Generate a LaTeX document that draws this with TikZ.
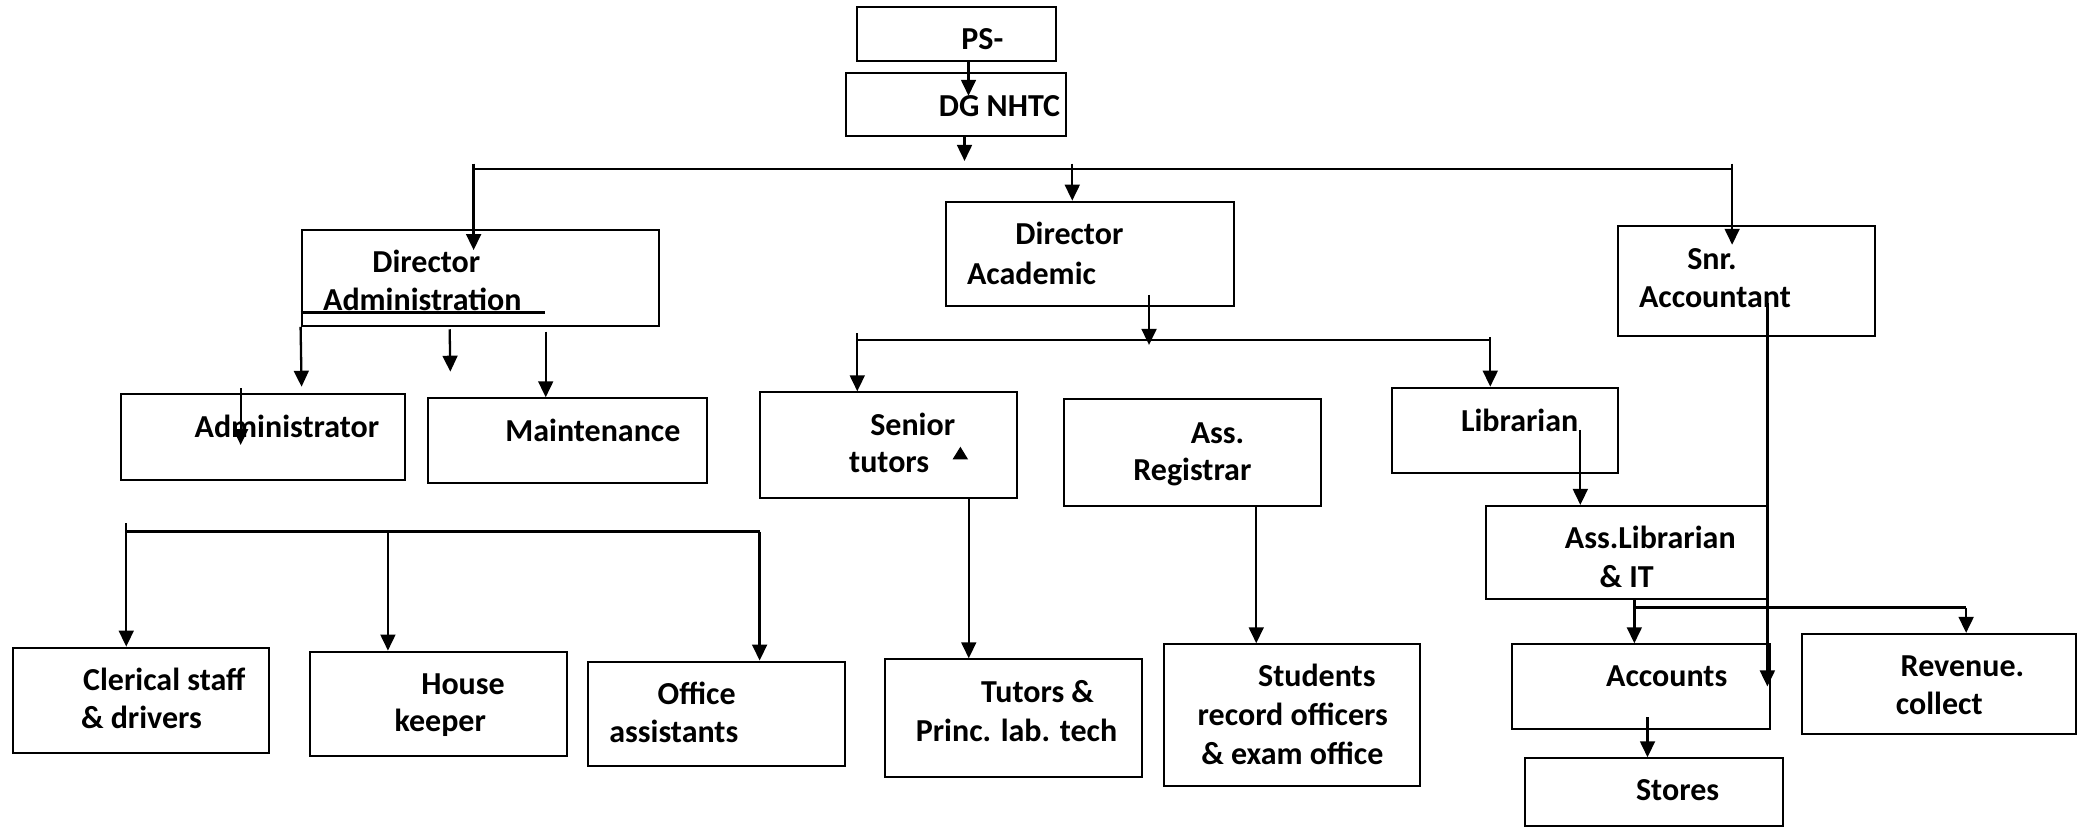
\documentclass[tikz,border=0pt]{standalone}
\usepackage{fontspec}
\setmainfont{Carlito}
\usetikzlibrary{arrows.meta,fit}
\tikzset{
  obox/.style={draw, line width=1pt, inner sep=0pt},
  otxt/.style={anchor=base west, inner sep=0pt, font=\fontsize{16}{19.3}\selectfont\bfseries},
  arr/.style={line width=1.15pt, -{Triangle[length=8pt,width=7.4pt]}},
  ln/.style={line width=1.15pt}
}
\newcommand\obox[5]{\node[obox, fit={(#2,#3) (#4,#5)}] (#1) {};}
\newcommand\otxt[4]{\node[otxt] (#1) at (#2,#3+2) {#4};}
\begin{document}
\begin{tikzpicture}[x=0.6652pt,y=-0.6652pt]
\useasboundingbox (0,0) rectangle (1568,622);
% boxes
\obox{ps}{644}{5.5}{794}{45.6}
\obox{dg}{636}{54.6}{801}{102.5}
\obox{dadm}{226.7}{173}{495.7}{245}
\obox{dacad}{710.8}{151.6}{927.6}{230}
\obox{snr}{1216}{170}{1409.7}{252.6}
\obox{admr}{90.7}{296.2}{304.8}{360.8}
\obox{maint}{321.6}{299.4}{531.5}{363.3}
\obox{stut}{571}{294.9}{764.6}{374.6}
\obox{areg}{799.5}{300.2}{993.2}{380.3}
\obox{lib}{1046.3}{291.4}{1216}{355.8}
\obox{alib}{1117.1}{380.3}{1328.5}{450.5}
\obox{acc}{1136.9}{484.3}{1330.6}{548.2}
\obox{stores}{1146.3}{570}{1339.9}{620.8}
\obox{rev}{1354.5}{476.5}{1560.2}{551.7}
\obox{stud}{874.6}{484.3}{1067.7}{590.6}
\obox{tutors}{665.4}{495.6}{858.4}{583.8}
\obox{cler}{9.5}{486.8}{202.5}{565.7}
\obox{house}{233}{489.8}{426}{568.2}
\obox{office}{441.9}{497.3}{635.4}{575.8}
% texts
\otxt{ps-t}{722.4}{35.1}{PS-}
\otxt{dg-t}{705.5}{85.2}{DG NHTC}
\otxt{dadm-t1}{279.6}{203}{Director}
\otxt{dadm-t2}{242.6}{231.7}{Administration}
\otxt{dacad-t1}{763}{181.7}{Director}
\otxt{dacad-t2}{726.6}{211.7}{Academic}
\otxt{snr-t1}{1268}{200.4}{Snr.}
\otxt{snr-t2}{1231.7}{229.3}{Accountant}
\otxt{admr-t}{146}{327}{Administrator}
\otxt{maint-t}{379.6}{329.5}{Maintenance}
\otxt{stut-t1}{653.9}{325}{Senior}
\otxt{stut-t2}{638}{353.3}{tutors}
\otxt{areg-t1}{894.8}{331.2}{Ass.}
\otxt{areg-t2}{851.6}{359.5}{Registrar}
\otxt{lib-t}{1097.9}{322.7}{Librarian}
\otxt{alib-t1}{1176}{410.4}{Ass.Librarian}
\otxt{alib-t2}{1202}{439.7}{\& IT}
\otxt{acc-t}{1207}{514}{Accounts}
\otxt{stores-t}{1229.5}{600}{Stores}
\otxt{rev-t1}{1428.4}{506.6}{Revenue.}
\otxt{rev-t2}{1424.8}{535}{collect}
\otxt{stud-t1}{945.4}{514.1}{Students}
\otxt{stud-t2}{900}{543.2}{record officers}
\otxt{stud-t3}{902.7}{572.5}{\& exam office}
\otxt{tutors-t1}{737.2}{526.2}{Tutors \&}
\otxt{tutors-t2}{688.1}{555}{Princ. lab. tech}
\otxt{cler-t1}{62.2}{517}{Clerical staff}
\otxt{cler-t2}{60.6}{545.7}{\& drivers}
\otxt{house-t1}{316.4}{519.9}{House}
\otxt{house-t2}{296.3}{548.2}{keeper}
\otxt{office-t1}{494.1}{527.4}{Office}
\otxt{office-t2}{457.7}{556.2}{assistants}
% underline under Administration
\coordinate (ul-r) at (410,234.8);
\draw[ln] (dadm.west |- ul-r) -- (ul-r);
% small triangle in Senior tutors
\fill (716,345.3) -- (727.7,345.3) -- (721.9,335.8) -- cycle;
% coordinates for connectors
\coordinate (t-psdg) at (728,72);
\coordinate (t-dgbus) at (725,121);
\coordinate (b1a) at (356,123);
\coordinate (b1l) at (356,127);
\coordinate (b1b) at (806,123);
\coordinate (b1c) at (1302,123);
\coordinate (b1r) at (1302,127);
\coordinate (t-dadm) at (356,188);
\coordinate (t-snr) at (1302,184);
\coordinate (t-da1) at (226.7,290.7);
\coordinate (s-da2) at (338,247.5);
\coordinate (t-da2) at (338.5,279.4);
\coordinate (s-da3) at (410.2,249.3);
\coordinate (s-da4) at (180.9,291.9);
\coordinate (t-da4) at (180.9,334.5);
\coordinate (s-dac) at (863.7,221.7);
\coordinate (t-dac) at (863.7,259.3);
\coordinate (b2l) at (644.4,255.6);
\coordinate (b2r) at (1120.2,255.6);
\coordinate (b2a) at (644.4,250.5);
\coordinate (b2c) at (1120.2,253.5);
\coordinate (s-snr) at (1328.5,227.8);
\coordinate (t-snr2) at (1328.5,516);
\coordinate (s-lib) at (1187.9,323.2);
\coordinate (s-alib) at (1228.5,450.5);
\coordinate (b3l) at (1228.5,456.7);
\coordinate (b3r) at (1477.9,456.7);
\coordinate (s-acc) at (1238.4,539.2);
\coordinate (s-areg) at (944.3,380.3);
\coordinate (s-stut) at (728.2,374.6);
\coordinate (b4a) at (94.9,393.4);
\coordinate (b4l) at (94.9,399.6);
\coordinate (b4m) at (291.6,399.6);
\coordinate (b4r) at (571,399.6);
% connectors
\draw[arr] (ps.south -| t-psdg) -- (t-psdg);
\draw[arr] (dg.south -| t-dgbus) -- (t-dgbus);
\draw[ln] (b1l) -- (b1r);
\draw[arr] (b1a) -- (t-dadm);
\draw[arr] (b1b) -- (dacad.north -| b1b);
\draw[arr] (b1c) -- (t-snr);
\draw[arr] (dadm.south west) -- (t-da1);
\draw[arr] (s-da2) -- (t-da2);
\draw[arr] (s-da3) -- (maint.north -| s-da3);
\draw[arr] (s-da4) -- (t-da4);
\draw[arr] (s-dac) -- (t-dac);
\draw[ln] (b2l) -- (b2r);
\draw[arr] (b2a) -- (stut.north -| b2a);
\draw[arr] (b2c) -- (lib.north -| b2c);
\draw[arr] (s-snr) -- (t-snr2);
\draw[arr] (s-lib) -- (alib.north -| s-lib);
\draw[arr] (s-alib) -- (acc.north -| s-alib);
\draw[ln] (b3l) -- (b3r);
\draw[arr] (b3r) -- (rev.north -| b3r);
\draw[arr] (s-acc) -- (stores.north -| s-acc);
\draw[arr] (s-areg) -- (stud.north -| s-areg);
\draw[arr] (s-stut) -- (tutors.north -| s-stut);
\draw[arr] (b4a) -- (cler.north -| b4a);
\draw[ln] (b4l) -- (b4r);
\draw[arr] (b4m) -- (house.north -| b4m);
\draw[arr] (b4r) -- (office.north -| b4r);
\end{tikzpicture}
\end{document}
